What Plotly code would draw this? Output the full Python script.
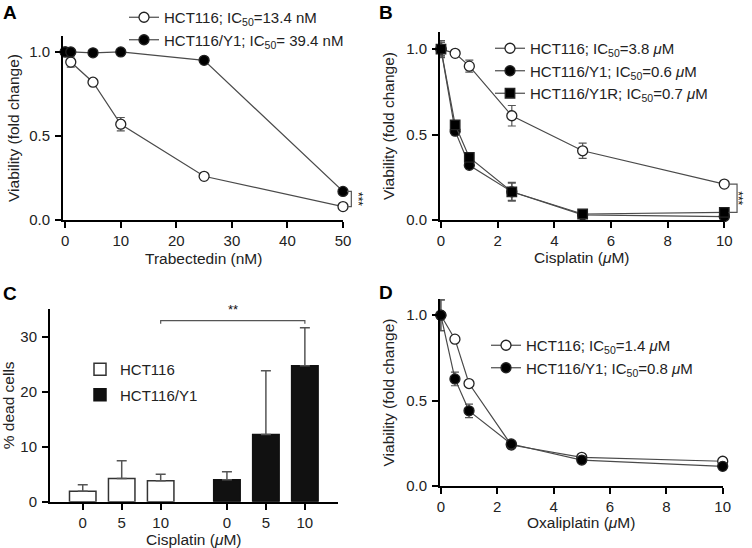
import plotly.graph_objects as go

W, H = 752, 548
FONT = "Liberation Sans, Arial, sans-serif"

# ---------------- Data ----------------
# Panel A: Trabectedin (nM)
a_dose = [0, 1, 5, 10, 25, 50]
a_hct116 = [1.0, 0.94, 0.82, 0.57, 0.26, 0.08]
a_hct116_err = [0.01, 0.03, 0.01, 0.04, 0.01, 0.01]
a_y1 = [1.0, 1.0, 0.995, 1.0, 0.95, 0.17]
a_y1_err = [0.01, 0.01, 0.01, 0.01, 0.01, 0.01]

# Panel B: Cisplatin (uM)
b_dose = [0, 0.5, 1, 2.5, 5, 10]
b_hct116 = [1.0, 0.975, 0.90, 0.61, 0.405, 0.21]
b_hct116_err = [0.04, 0.01, 0.035, 0.06, 0.045, 0.01]
b_y1 = [1.0, 0.52, 0.32, 0.165, 0.03, 0.02]
b_y1_err = [0.04, 0.02, 0.015, 0.05, 0.01, 0.01]
b_y1r = [1.0, 0.557, 0.366, 0.165, 0.035, 0.045]
b_y1r_err = [0.05, 0.02, 0.02, 0.055, 0.01, 0.01]

# Panel C: % dead cells
c_doses = ["0", "5", "10"]
c_hct116 = [1.9, 4.2, 3.8]
c_hct116_err = [1.2, 3.25, 1.2]
c_y1 = [4.0, 12.2, 24.7]
c_y1_err = [1.45, 11.6, 6.9]

# Panel D: Oxaliplatin (uM)
d_dose = [0, 0.5, 1, 2.5, 5, 10]
d_hct116 = [1.0, 0.86, 0.60, 0.24, 0.168, 0.145]
d_hct116_err = [0.09, 0.01, 0.01, 0.01, 0.01, 0.01]
d_y1 = [1.0, 0.627, 0.44, 0.246, 0.152, 0.115]
d_y1_err = [0.09, 0.04, 0.04, 0.01, 0.01, 0.01]

# ---------------- Layout geometry (pixels) ----------------
def dom_x(p0, p1):
    return [p0 / W, p1 / W]

def dom_y(top, bottom):
    return [1 - bottom / H, 1 - top / H]

axes_geo = {
    "A": dict(x=dom_x(63, 343), y=dom_y(36, 220), xr=[-0.4, 50], yr=[0, 1.095]),
    "B": dict(x=dom_x(440, 724.3), y=dom_y(32, 220), xr=[-0.035, 10], yr=[0, 1.10]),
    "C": dict(x=dom_x(50, 338), y=dom_y(309, 501.7), xr=[-0.84, 6.55], yr=[0, 35]),
    "D": dict(x=dom_x(440, 722.7), y=dom_y(299, 486), xr=[-0.03, 10], yr=[0, 1.095]),
}

def to_paper(panel, x=None, y=None):
    g = axes_geo[panel]
    out = []
    if x is not None:
        out.append(g["x"][0] + (x - g["xr"][0]) / (g["xr"][1] - g["xr"][0]) * (g["x"][1] - g["x"][0]))
    if y is not None:
        out.append(g["y"][0] + (y - g["yr"][0]) / (g["yr"][1] - g["yr"][0]) * (g["y"][1] - g["y"][0]))
    return out[0] if len(out) == 1 else out

LINE = "#4a4a4a"
ERR = "#555555"
TXT = "#222222"

fig = go.Figure()

def curve(x, y, err, name, xa, ya, legend, symbol="circle", open_=False):
    fig.add_trace(go.Scatter(
        x=x, y=y, name=name, xaxis=xa, yaxis=ya, legend=legend,
        mode="lines+markers",
        line=dict(color=LINE, width=1.2),
        marker=dict(symbol=symbol, size=10 if symbol == "circle" else 9.5,
                    color="white" if open_ else "black",
                    line=dict(color="#222222", width=1.3)),
        error_y=dict(type="data", array=err, visible=True, color=ERR, thickness=1.2, width=4),
        cliponaxis=False,
    ))

IC = "IC<sub>50</sub>"
MU = "<i>\u03bc</i>M"

# Panel A
curve(a_dose, a_hct116, a_hct116_err, f"HCT116; {IC}=13.4 nM", "x", "y", "legend", open_=True)
curve(a_dose, a_y1, a_y1_err, f"HCT116/Y1; {IC}= 39.4 nM", "x", "y", "legend")

# Panel B
curve(b_dose, b_hct116, b_hct116_err, f"HCT116; {IC}=3.8 {MU}", "x2", "y2", "legend2", open_=True)
curve(b_dose, b_y1, b_y1_err, f"HCT116/Y1; {IC}=0.6 {MU}", "x2", "y2", "legend2")
curve(b_dose, b_y1r, b_y1r_err, f"HCT116/Y1R; {IC}=0.7 {MU}", "x2", "y2", "legend2", symbol="square")

# Panel C
gap = 0.7
c_pos_1 = [i for i in range(len(c_doses))]
c_pos_2 = [i + len(c_doses) + gap for i in range(len(c_doses))]
fig.add_trace(go.Bar(
    x=c_pos_1, y=c_hct116, name="HCT116", xaxis="x3", yaxis="y3", legend="legend3",
    legendgroup="c1", width=0.68,
    marker=dict(color="white", line=dict(color="#333333", width=1.5)),
    error_y=dict(type="data", array=c_hct116_err, arrayminus=[0] * 3, symmetric=False,
                 visible=True, color=ERR, thickness=1.5, width=5),
))
fig.add_trace(go.Bar(
    x=c_pos_2, y=c_y1, name="HCT116/Y1", xaxis="x3", yaxis="y3", legend="legend3",
    legendgroup="c2", width=0.68,
    marker=dict(color="#111111", line=dict(color="#111111", width=1.5)),
    error_y=dict(type="data", array=c_y1_err, arrayminus=[0] * 3, symmetric=False,
                 visible=True, color=ERR, thickness=1.5, width=5),
))

# Panel D
curve(d_dose, d_hct116, d_hct116_err, f"HCT116; {IC}=1.4 {MU}", "x4", "y4", "legend4", open_=True)
curve(d_dose, d_y1, d_y1_err, f"HCT116/Y1; {IC}=0.8 {MU}", "x4", "y4", "legend4")

# ---------------- Axes ----------------
TICKF = dict(size=15, color=TXT, family=FONT)
TITLEF = dict(size=15.5, color=TXT, family=FONT)
axis_common = dict(showline=True, linecolor="black", linewidth=2, ticks="outside",
                   ticklen=6, tickwidth=2, tickcolor="black", showgrid=False, zeroline=False,
                   tickfont=TICKF, automargin=False)

def xaxis(panel, anchor, **kw):
    g = axes_geo[panel]
    d = dict(axis_common, domain=g["x"], range=g["xr"], anchor=anchor, ticklabelstandoff=0)
    d.update(kw)
    return d

def yaxis(panel, anchor, title, standoff=8, **kw):
    g = axes_geo[panel]
    d = dict(axis_common, domain=g["y"], range=g["yr"], anchor=anchor, ticklabelstandoff=2,
             title=dict(text=title, standoff=standoff, font=TITLEF))
    d.update(kw)
    return d

fig.update_layout(
    width=W, height=H, margin=dict(l=0, r=0, t=0, b=0, autoexpand=False),
    paper_bgcolor="white", plot_bgcolor="white",
    font=dict(family=FONT, size=15, color=TXT),
    barmode="overlay",
    xaxis=xaxis("A", "y", tickvals=[0, 10, 20, 30, 40, 50]),
    yaxis=yaxis("A", "x", "Viability (fold change)", standoff=6, tickvals=[0, 0.5, 1.0], tickformat=".1f"),
    xaxis2=xaxis("B", "y2", tickvals=[0, 2, 4, 6, 8, 10]),
    yaxis2=yaxis("B", "x2", "Viability (fold change)", tickvals=[0, 0.5, 1.0], tickformat=".1f"),
    xaxis3=xaxis("C", "y3", tickvals=c_pos_1 + c_pos_2, ticktext=c_doses + c_doses),
    yaxis3=yaxis("C", "x3", "% dead cells", standoff=5, tickvals=[0, 10, 20, 30]),
    xaxis4=xaxis("D", "y4", tickvals=[0, 2, 4, 6, 8, 10]),
    yaxis4=yaxis("D", "x4", "Viability (fold change)", tickvals=[0, 0.5, 1.0], tickformat=".1f"),
)

leg_common = dict(bgcolor="rgba(0,0,0,0)", font=dict(size=15, family=FONT, color=TXT),
                  itemsizing="trace", xanchor="left", yanchor="top", itemwidth=30)
fig.update_layout(
    legend=dict(leg_common, x=124 / W, y=1 - 1 / H, traceorder="normal"),
    legend2=dict(leg_common, x=490 / W, y=1 - 32 / H, traceorder="normal"),
    legend3=dict(leg_common, x=80 / W, y=1 - 353 / H, traceorder="grouped", tracegroupgap=3),
    legend4=dict(leg_common, x=486 / W, y=1 - 329 / H, traceorder="normal"),
)

# ---------------- Annotations & shapes ----------------
ann = []
for letter, (px, py) in {"A": (1, 13), "B": (377, 13), "C": (1, 293), "D": (377, 292)}.items():
    ann.append(dict(text=f"<b>{letter}</b>", x=px / W, y=1 - py / H, xref="paper", yref="paper",
                    xanchor="left", yanchor="middle", showarrow=False,
                    font=dict(size=19, family=FONT, color="black")))

# x-axis titles, centred under each panel's x axis
x_titles = {"A": ("Trabectedin (nM)", 258), "B": (f"Cisplatin ({MU})", 257),
            "C": (f"Cisplatin ({MU})", 539), "D": (f"Oxaliplatin ({MU})", 522)}
for panel, (txt, py) in x_titles.items():
    g = axes_geo[panel]
    ann.append(dict(text=txt, x=(g["x"][0] + g["x"][1]) / 2, y=1 - py / H, xref="paper", yref="paper",
                    xanchor="center", yanchor="middle", showarrow=False, font=TITLEF))

shapes = []

def bracket(panel, xv, xtick, y0, y1, star_x, stars):
    x_a = to_paper(panel, x=xv)
    x_b = to_paper(panel, x=xtick)
    ya0 = to_paper(panel, y=y0)
    ya1 = to_paper(panel, y=y1)
    path = f"M {x_a},{ya0} L {x_b},{ya0} L {x_b},{ya1} L {x_a},{ya1}"
    shapes.append(dict(type="path", path=path, xref="paper", yref="paper",
                       line=dict(color="#555555", width=1.2)))
    ann.append(dict(text=stars, x=to_paper(panel, x=star_x), y=(ya0 + ya1) / 2,
                    xref="paper", yref="paper", textangle=90, showarrow=False,
                    font=dict(size=12, family=FONT, color="#111111")))

# A: between HCT116/Y1 and HCT116 at 50 nM
bracket("A", 50.7, 51.5, a_y1[-1], a_hct116[-1], 52.7, "***")
# B: between HCT116 and resistant lines at 10 uM
bracket("B", 10.15, 10.45, b_hct116[-1], b_y1r[-1], 10.8, "***")

# C: bracket over HCT116 10 uM vs HCT116/Y1 10 uM
c_top = 32.9
shapes.append(dict(type="path",
                   path=f"M {c_pos_1[-1]},{c_top - 0.6} L {c_pos_1[-1]},{c_top} L {c_pos_2[-1]},{c_top} L {c_pos_2[-1]},{c_top - 0.6}",
                   xref="x3", yref="y3", line=dict(color="#555555", width=1.2)))
ann.append(dict(text="**", x=(c_pos_1[-1] + c_pos_2[-1]) / 2, y=c_top + 0.3, xref="x3", yref="y3",
                yanchor="bottom", showarrow=False, font=dict(size=13, family=FONT, color="#111111")))

fig.update_layout(annotations=ann, shapes=shapes)

# remove the default 8px page margin so the 752x548 figure fills the window exactly
fig.write_html("out.html", config={"displayModeBar": False},
               post_script="document.body.style.margin='0';document.body.style.overflow='hidden';")
